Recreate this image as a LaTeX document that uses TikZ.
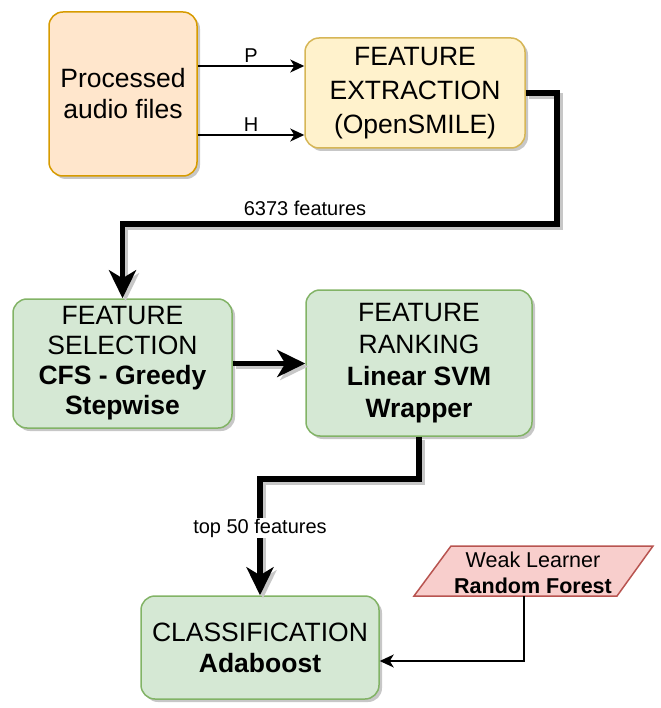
\documentclass[tikz,border=0pt]{standalone}
\usepackage{fontspec}
\setmainfont{Liberation Sans}
\usetikzlibrary{arrows.meta,shadows}
\definecolor{orfill}{HTML}{FFE6CC}
\definecolor{ordraw}{HTML}{D79B00}
\definecolor{yefill}{HTML}{FFF2CC}
\definecolor{yedraw}{HTML}{D6B656}
\definecolor{grfill}{HTML}{D5E8D4}
\definecolor{grdraw}{HTML}{82B366}
\definecolor{rdfill}{HTML}{F8CECC}
\definecolor{rddraw}{HTML}{B85450}
\begin{document}
\begin{tikzpicture}[x=1pt,y=-1pt,
  box/.style={draw, line width=1.5pt, rounded corners=14pt, align=center,
    inner sep=0pt, font=\fontsize{26.5}{31}\selectfont,
    drop shadow={shadow xshift=3pt, shadow yshift=-3pt, fill=black, opacity=0.22}},
  thinarrow/.style={line width=1.6pt, -{Stealth[length=14pt,width=13pt,inset=4pt]}},
  thickarrow/.style={line width=5.5pt, -{Stealth[length=28pt,width=27pt,inset=8pt]}},
  conshadow/.style={draw=black!22, transform canvas={shift={(3pt,-3pt)}}},
  lbl/.style={font=\fontsize{20}{24}\selectfont, inner sep=1pt}]
\useasboundingbox (0,0) rectangle (660,708);

% nodes
\node[box, fill=orfill, draw=ordraw, minimum width=148pt, minimum height=164pt]
  (pa) at (123,94) {Processed\\audio files};
\node[box, fill=yefill, draw=yedraw, minimum width=220pt, minimum height=110pt,
  font=\fontsize{26.5}{34}\selectfont]
  (fe) at (415,93) {FEATURE\\EXTRACTION\\(OpenSMILE)};
\node[box, fill=grfill, draw=grdraw, minimum width=219pt, minimum height=129pt,
  font=\fontsize{26.5}{30}\selectfont]
  (sel) at (122.5,363.5) {FEATURE\\SELECTION\\\textbf{CFS - Greedy}\\\textbf{Stepwise}};
\node[box, fill=grfill, draw=grdraw, minimum width=226pt, minimum height=146pt,
  font=\fontsize{26.5}{32}\selectfont]
  (rank) at (419,363) {FEATURE\\RANKING\\\textbf{Linear SVM}\\\textbf{Wrapper}};
\node[box, fill=grfill, draw=grdraw, minimum width=238pt, minimum height=103pt]
  (class) at (260,647.5) {CLASSIFICATION\\\textbf{Adaboost}};

% weak learner parallelogram
\coordinate (w1) at (414,596);
\coordinate (w2) at (451,546);
\coordinate (w3) at (653,546);
\coordinate (w4) at (617,596);
\filldraw[fill=rdfill, draw=rddraw, line width=1.5pt] (w1) -- (w2) -- (w3) -- (w4) -- cycle;
\node[align=center, font=\fontsize{21.5}{26}\selectfont, inner sep=0pt]
  (weak) at (533,573) {Weak Learner\\\textbf{Random Forest}};
\coordinate (wb) at (524,596);

% thin arrows
\draw[thinarrow] ([yshift=28pt]pa.east) -- ([yshift=28pt]pa.east -| fe.west)
  node[lbl, midway, above=2pt] (lp) {P};
\draw[thinarrow] ([yshift=-41pt]pa.east) -- ([yshift=-41pt]pa.east -| fe.west)
  node[lbl, midway, above=2pt] (lh) {H};

% thick connectors
\coordinate (c1) at (557,224);
\coordinate (c2) at (419,479);
\draw[thickarrow, conshadow] (fe.east) -- (fe.east -| c1) -- (c1) -| (sel.north);
\draw[thickarrow] (fe.east) -- (fe.east -| c1) -- (c1) -| (sel.north);
\node[lbl] (l6373) at (305,208) {6373 features};

\draw[thickarrow, conshadow] (sel.east) -- (sel.east -| rank.west);
\draw[thickarrow] (sel.east) -- (sel.east -| rank.west);

\draw[thickarrow, conshadow] (rank.south) -- (c2) -| (class.north);
\draw[thickarrow] (rank.south) -- (c2) -| (class.north);
\node[lbl, fill=white] (l50) at (260,528) {top 50 features};

% weak learner to classification
\draw[thinarrow, line width=1.3pt] (wb) |- ([yshift=-13.5pt]class.east);
\end{tikzpicture}
\end{document}
